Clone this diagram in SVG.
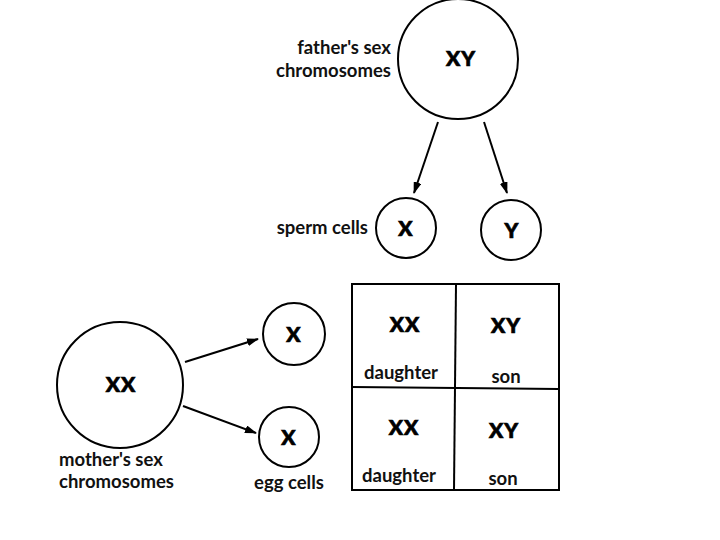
<svg xmlns="http://www.w3.org/2000/svg" width="720" height="540" viewBox="0 0 720 540">
<style>
.c{fill:#fff;stroke:#000;stroke-width:2}
.big{font-family:Lato,"Open Sans","Liberation Sans",sans-serif;font-weight:900;font-size:21px;letter-spacing:1px;text-anchor:middle;fill:#000;stroke:#000;stroke-width:0.7}
.lab{font-family:Lato,"Open Sans","Liberation Sans",sans-serif;font-weight:bold;font-size:18.5px;fill:#111}
.ln{stroke:#000;stroke-width:2;fill:none}
</style>
<defs>
<marker id="ah" viewBox="0 0 12 8" refX="11" refY="4" markerWidth="12" markerHeight="8" markerUnits="userSpaceOnUse" orient="auto">
<path d="M0,0 L12,4 L0,8 Z" fill="#000"/>
</marker>
</defs>
<rect width="720" height="540" fill="#fff"/>
<g id="father">
<circle class="c" cx="458" cy="59" r="60"/>
<text class="big" x="461" y="66">XY</text>
<text class="lab" x="391" y="54" text-anchor="end">father's sex</text>
<text class="lab" x="391" y="77" text-anchor="end">chromosomes</text>
</g>
<g id="spermX">
<circle class="c" cx="406" cy="228" r="30"/>
<text class="big" x="406" y="236">X</text>
<text class="lab" x="368" y="234" text-anchor="end">sperm cells</text>
</g>
<g id="spermY">
<circle class="c" cx="511" cy="230" r="30"/>
<text class="big" x="512" y="238">Y</text>
</g>
<g id="mother">
<circle class="c" cx="120" cy="385" r="63"/>
<text class="big" x="121" y="392">XX</text>
<text class="lab" x="59" y="466">mother's sex</text>
<text class="lab" x="59" y="488">chromosomes</text>
</g>
<g id="eggTop">
<circle class="c" cx="294" cy="334" r="31"/>
<text class="big" x="294" y="342">X</text>
</g>
<g id="eggBottom">
<circle class="c" cx="289" cy="437" r="30"/>
<text class="big" x="289" y="445">X</text>
<text class="lab" x="289" y="489" text-anchor="middle">egg cells</text>
</g>
<g id="grid">
<rect x="352" y="284" width="207" height="206" fill="none" stroke="#000" stroke-width="2"/>
<line class="ln" x1="456" y1="284" x2="454" y2="490"/>
<line class="ln" x1="352" y1="387" x2="559" y2="389"/>
<text class="big" x="405" y="332">XX</text>
<text class="lab" x="401" y="379" text-anchor="middle">daughter</text>
<text class="big" x="506" y="333">XY</text>
<text class="lab" x="506" y="383" text-anchor="middle">son</text>
<text class="big" x="404" y="435">XX</text>
<text class="lab" x="399" y="482" text-anchor="middle">daughter</text>
<text class="big" x="504" y="438">XY</text>
<text class="lab" x="503" y="485" text-anchor="middle">son</text>
</g>
<g id="connectors">
<line class="ln" x1="438" y1="122" x2="414" y2="193" marker-end="url(#ah)"/>
<line class="ln" x1="484" y1="122" x2="507" y2="193" marker-end="url(#ah)"/>
<line class="ln" x1="185" y1="362" x2="258" y2="339" marker-end="url(#ah)"/>
<line class="ln" x1="183" y1="406" x2="256" y2="433" marker-end="url(#ah)"/>
</g>
</svg>
